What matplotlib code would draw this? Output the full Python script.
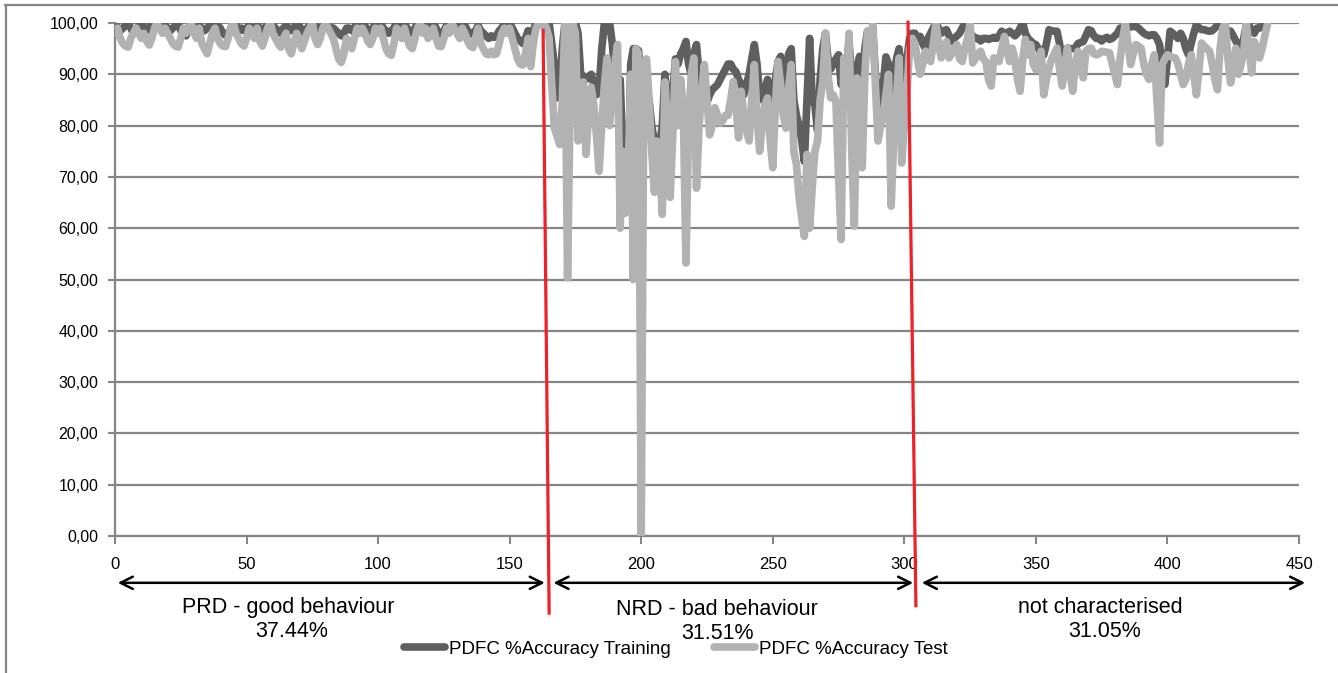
import numpy as np
import matplotlib.pyplot as plt
from matplotlib.transforms import blended_transform_factory
from matplotlib.lines import Line2D

plt.rcParams['font.family'] = ['Liberation Sans', 'DejaVu Sans']

# PDFC %Accuracy per sample, split by the three behaviour regions
test_prd = [98, 99, 97, 96, 95.5, 95.3, 97, 98, 99, 98, 97, 98, 96.5, 95.7, 97, 99, 100, 99, 98, 99,
            98, 97, 96, 95.5, 95.3, 97, 99, 98, 99, 100, 98, 97, 99, 96, 95, 94, 96, 98, 99, 97,
            96, 95.5, 95.4, 97, 99, 100, 98, 97, 96, 95.5, 97, 99, 98, 97, 99, 96.5, 95.5, 97, 99, 100,
            98, 97, 96, 95.3, 97, 98, 95, 94, 96, 98, 97, 95, 96.5, 98, 99, 100, 97, 95.8, 97, 99,
            100, 99, 98, 97, 95, 93, 92.3, 94, 97, 96, 95, 97, 99, 98, 99, 98, 96.5, 95.8, 97, 99,
            98, 99, 97, 95, 94, 93.7, 96, 99, 98, 97, 99, 97, 95.5, 95, 97, 99, 100, 98, 99, 97,
            98, 99, 97, 95.5, 95.4, 97, 99, 98, 100, 99, 98, 97, 99, 98, 96.5, 95.5, 95.2, 97, 99, 96,
            95, 94, 93.8, 94.5, 93.8, 94, 96, 98, 99, 98, 99, 97, 95, 93, 92, 91.8, 94, 97, 91.5, 96,
            99, 100, 99.5, 100, 99]
test_nrd = [97, 88, 79.5, 78, 76.3, 85, 100, 50.3, 85, 100, 98, 77, 85, 88.5, 74.4, 82, 87.5, 84, 78, 71.1,
            80, 88, 93.2, 80, 86, 92, 95.8, 60, 75, 63, 70, 90, 50, 95, 94, 0, 90, 93, 85, 75,
            67, 77, 72, 62.7, 88.5, 80, 66, 78, 92.5, 80, 89, 83, 53.2, 80, 90, 93.2, 67.8, 80, 87, 91.9,
            85, 78.2, 80, 83.5, 82, 80.5, 81, 82, 82, 85, 88.6, 84, 77.6, 86.7, 82, 79, 77, 85, 91.9, 82,
            75, 80, 84, 85.4, 77, 71.8, 84, 92.5, 88, 82, 79.5, 87, 91.9, 75, 72.4, 66, 62, 58.4, 74.4, 60,
            68, 75, 77, 85, 88.6, 98, 90, 85.4, 86, 84.7, 70, 57.8, 93.2, 90, 98, 75, 60.4, 89.3, 80, 71.8,
            90, 98.4, 95, 99.7, 88, 77, 80, 82, 86, 90, 64.3, 78, 85.4, 93.2, 72.7, 80, 86.7, 95, 97, 96]
test_nc = [93, 90, 92, 94.5, 93, 92.5, 96, 100, 96, 93.2, 95, 96.4, 93.2, 94, 95, 95.8, 93, 92.5, 95.1, 97,
           100, 92.2, 93, 94, 94.5, 93, 92.5, 89, 87.7, 93.2, 93, 92.5, 95, 97.4, 95, 92.5, 95.1, 93, 89, 86.7,
           93, 96.8, 93.8, 95.8, 92, 90.9, 93, 94.5, 86, 89, 91.2, 93, 94, 95.1, 91, 87.7, 92, 95.1, 90, 86.7,
           92, 94.5, 92, 89.3, 94.5, 95, 95.1, 94, 93.8, 94, 94.5, 94.4, 94.3, 94.2, 92, 90, 88, 93, 97, 100,
           96, 91.9, 94, 95.8, 95.5, 95.1, 92, 90, 89, 92, 93.8, 85, 76.6, 91.9, 93, 93.8, 93.5, 93.3, 93.2, 92,
           90, 88, 89, 92, 93.8, 90, 86, 91, 96.1, 95.5, 95, 94.5, 92, 89, 87, 95, 99, 100, 93, 88.3,
           92, 95.1, 90, 92, 94.5, 100, 95, 90.3, 96.4, 95, 93.2, 95, 97.5, 99.7]

train_prd = [100, 99, 98.5, 99, 99.5, 100, 99, 98, 98.5, 99.5, 100, 99, 98.5, 99, 100, 99.5, 100, 100, 99, 99.5,
             99, 98.5, 99, 99.5, 100, 98.5, 98, 97.5, 99, 100, 99.5, 98.7, 99.5, 99, 98.5, 99, 99.5, 100, 99.8, 99.5,
             99, 98, 97.6, 97.5, 99, 100, 99.5, 98.5, 99, 98.5, 99, 99.5, 99, 98.5, 99.5, 99, 98.5, 99, 100, 100,
             99.5, 99, 98.5, 98, 99, 99.5, 99, 98.5, 99, 100, 99.5, 98.5, 98, 99, 99.5, 100, 99.5, 99, 98.5, 99.5,
             100, 99.5, 99, 99, 98.5, 98, 97.5, 98, 99, 99, 98.5, 99, 100, 99.5, 100, 99.5, 98.5, 98, 99, 100,
             99.5, 100, 99, 98.5, 98, 98.5, 99, 100, 99.5, 99, 100, 99, 98.5, 98, 99, 100, 100, 99.5, 100, 99,
             99.5, 100, 99, 98, 97.5, 98.5, 99.5, 99, 100, 99.8, 99.5, 99, 100, 99.5, 98.5, 98, 97.8, 98.5, 99.5, 98.5,
             98, 97.5, 97, 97.5, 97.2, 97.5, 98.5, 99, 100, 99.5, 100, 99, 98, 97, 96.5, 96, 97, 98.5, 96, 98.5,
             100, 100, 100, 100, 100]
train_nrd = [100, 96, 92, 85.4, 86, 95, 100, 100, 100, 100, 100, 98, 90, 89.6, 89, 89.6, 90, 88, 86, 87,
             95, 100, 100, 100, 96, 90, 89.3, 89, 75, 63, 64, 92, 95, 95, 94.6, 90, 78, 87, 85, 80,
             77, 77, 76, 80, 90, 85, 82, 86, 93, 92, 94, 95, 96.4, 92, 90, 94, 95.8, 90, 86, 85,
             84.5, 86, 87, 87.5, 88, 89, 90, 91, 92, 92, 91, 90.5, 89, 88, 86, 88, 90, 93, 95.8, 92,
             86, 85, 87, 89, 85, 83, 89, 92.5, 93.5, 88, 86, 94, 95, 85, 82, 80, 77, 73, 85, 97,
             85, 84, 79, 89, 95, 98, 93, 91, 92, 93, 93.8, 88, 93, 92, 96, 90, 89, 91, 93.5, 83,
             95, 98.4, 96, 99, 90, 85, 83, 88, 93.4, 92, 84, 88, 93, 95, 90, 87, 93, 97, 98, 98]
train_nc = [97, 97.4, 96, 95, 97, 98, 99, 100, 99, 98, 98.5, 98.7, 97.5, 96.4, 97, 97.5, 98, 99, 100, 99,
            98, 97.5, 97, 97, 96.5, 97, 97, 96.8, 97, 97.2, 97, 97.5, 98.4, 98, 98, 98.4, 98, 97.5, 98, 99,
            100, 98, 97, 96.5, 96, 95.8, 95, 94, 93.8, 96, 98.7, 98.5, 98.4, 98.4, 96, 92.5, 94, 95.1, 95, 95,
            95.1, 96, 96.2, 96.4, 97.5, 98.7, 98.5, 97.5, 97, 97, 96.5, 97, 97.2, 96.8, 97, 97.5, 98, 99, 99, 99.4,
            99.4, 99.2, 99.4, 99.3, 99, 98.5, 98, 97.7, 97.5, 97.7, 97.7, 97, 95.8, 92, 88, 93, 98.4, 98, 97.5, 97,
            98, 97, 95, 93.8, 96, 98, 99.7, 99, 98.7, 98.7, 98.5, 98.4, 98.5, 99, 99.5, 99.7, 99.5, 99, 98.5, 98.4,
            97.5, 96.5, 95.5, 94.5, 97, 99.7, 99.5, 98.5, 98, 99, 99, 99.5, 100, 100]

region_names = ['PRD - good behaviour', 'NRD - bad behaviour', 'not characterised']
region_shares = ['37.44%', '31.51%', '31.05%']
region_bounds = [0, 165, 305, 454]
xticks = [0, 50, 100, 150, 200, 250, 300, 350, 400, 450]
yticks = [0, 10, 20, 30, 40, 50, 60, 70, 80, 90, 100]

train = train_prd + train_nrd + train_nc
test = test_prd + test_nrd + test_nc
x = np.arange(len(test))

fig = plt.figure(figsize=(13.38, 6.73), dpi=100)
ax = fig.add_axes([115/1338, 137/673, 1184/1338, 513/673])
grid_c = '#868686'
ax.plot(x, train, color='#5f5f5f', lw=5.5, solid_joinstyle='round', solid_capstyle='round',
        label='PDFC %Accuracy Training', zorder=3)
ax.plot(x, test, color='#b2b2b2', lw=5.5, solid_joinstyle='round', solid_capstyle='round',
        label='PDFC %Accuracy Test', zorder=4)
ax.set_xlim(0, 450)
ax.set_ylim(0, 100)
ax.set_xticks(xticks)
ax.set_yticks(yticks)
ax.yaxis.set_major_formatter(plt.FuncFormatter(lambda v, p: ('%.2f' % v).replace('.', ',')))
ax.tick_params(axis='x', labelsize=12, pad=9, length=6, width=1.5, color=grid_c)
ax.tick_params(axis='y', labelsize=11.5, pad=7, length=5, width=1.5, color=grid_c)
ax.yaxis.grid(True, color=grid_c, lw=1.6, zorder=0)
ax.set_axisbelow(True)
for s in ['top', 'right']:
    ax.spines[s].set_visible(False)
for s in ['left', 'bottom']:
    ax.spines[s].set_color(grid_c)
    ax.spines[s].set_linewidth(1.6)

# chart area border (top and left)
fig.add_artist(Line2D([5/1338, 1338/1338], [668/673, 668/673], color=grid_c, lw=1.6))
fig.add_artist(Line2D([6/1338, 6/1338], [0, 668/673], color=grid_c, lw=1.6))

tr = blended_transform_factory(ax.transData, fig.transFigure)
# region arrows and labels
name_x = [66.0, 228.8, 374.4]
name_y = [0.098, 0.094, 0.098]
share_x = [67.3, 228.8, 376.3]
share_y = [0.062, 0.059, 0.061]
for k in range(3):
    x0 = region_bounds[k] + (0.6 if k > 0 else 0)
    x1 = region_bounds[k + 1] - 0.6
    ax.annotate('', xy=(x0, 0.134), xytext=(x1, 0.134), xycoords=tr, textcoords=tr,
                arrowprops=dict(arrowstyle='<->', color='black', lw=1.8, mutation_scale=22))
    ax.text(name_x[k], name_y[k], region_names[k], transform=tr, ha='center', va='center', fontsize=15.5)
    ax.text(share_x[k], share_y[k], region_shares[k], transform=tr, ha='center', va='center', fontsize=15.5)

# red separators
ax.plot([162.7, 165.0], [0.955, 0.089], color='#ee2028', lw=2.3, transform=tr, clip_on=False, zorder=6)
ax.plot([301.4, 304.4], [0.967, 0.100], color='#ee2028', lw=2.3, transform=tr, clip_on=False, zorder=6)

fig.legend(loc='center', bbox_to_anchor=(676/1338, 24/673), ncol=2, frameon=False, fontsize=13.5,
           handlelength=2.2, columnspacing=2.3, handletextpad=0.2)

fig.savefig('out.png', dpi=100)
